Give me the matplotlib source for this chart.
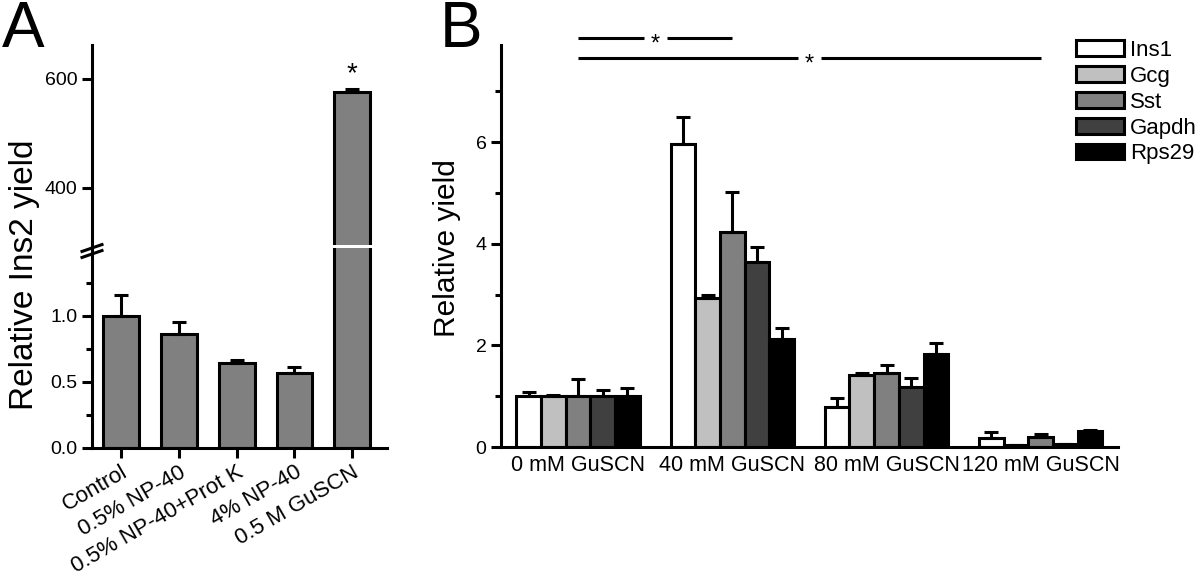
import matplotlib.pyplot as plt
import numpy as np

plt.rcParams['font.family'] = ['Liberation Sans', 'DejaVu Sans']

# panel A data
treatments = ["Control", "0.5% NP-40", "0.5% NP-40+Prot K", "4% NP-40", "0.5 M GuSCN"]
ins2_yield = [1.0, 0.864, 0.644, 0.568, 576]
ins2_err = [0.16, 0.09, 0.023, 0.046, 6]

# panel B data
conditions = ["0 mM GuSCN", "40 mM GuSCN", "80 mM GuSCN", "120 mM GuSCN"]
genes = ["Ins1", "Gcg", "Sst", "Gapdh", "Rps29"]
gene_colors = ["#ffffff", "#c0c0c0", "#808080", "#404040", "#000000"]
yield_b = {
    "Ins1":  [1.0, 5.96, 0.79, 0.17],
    "Gcg":   [1.0, 2.93, 1.42, 0.04],
    "Sst":   [1.0, 4.23, 1.45, 0.20],
    "Gapdh": [1.0, 3.64, 1.18, 0.05],
    "Rps29": [1.0, 2.12, 1.83, 0.31],
}
err_b = {
    "Ins1":  [0.08, 0.54, 0.17, 0.12],
    "Gcg":   [0.02, 0.07, 0.03, 0.0],
    "Sst":   [0.33, 0.79, 0.16, 0.05],
    "Gapdh": [0.12, 0.30, 0.18, 0.0],
    "Rps29": [0.16, 0.22, 0.21, 0.02],
}

LW = 2.2
fig = plt.figure(figsize=(12, 5.75), dpi=100)

# ---- panel A : broken axis ----
ax_lo = fig.add_axes([0.0767, 0.2209, 0.2458, 0.3478])
ax_hi = fig.add_axes([0.0767, 0.5739, 0.2458, 0.3478], sharex=ax_lo)

xa = np.arange(len(treatments))
for ax in (ax_lo, ax_hi):
    ax.bar(xa, ins2_yield, width=0.62, color="#808080", edgecolor="black", linewidth=LW,
           yerr=[np.zeros(len(xa)), ins2_err], capsize=5,
           error_kw=dict(elinewidth=LW, capthick=LW, ecolor="black"))
    for s in ("top", "right"):
        ax.spines[s].set_visible(False)
    ax.spines["left"].set_linewidth(LW)
    ax.tick_params(axis="y", width=LW, length=7, labelsize=14)
    ax.tick_params(axis="y", which="minor", width=LW, length=4)

ax_lo.set_xlim(-0.5, 4.6)
ax_lo.set_ylim(0, 1.515)
ax_lo.set_yticks([0, 0.5, 1.0])
ax_lo.set_yticklabels(["0.0", "0.5", "1.0"])
ax_lo.set_yticks([0.25, 0.75, 1.25], minor=True)
ax_lo.spines["bottom"].set_linewidth(LW)
ax_lo.set_xticks(xa)
ax_lo.set_xticklabels(treatments, rotation=30, ha="right", rotation_mode="anchor", fontsize=16)
ax_lo.tick_params(axis="x", width=LW, length=7, pad=3)

ax_hi.set_ylim(295, 662)
ax_hi.set_yticks([400, 600])
ax_hi.spines["bottom"].set_visible(False)
ax_hi.tick_params(axis="x", bottom=False, labelbottom=False)
ax_hi.text(4, 608, "*", ha="center", va="center", fontsize=20)

# break marks on the axis
for dy in (0.0, 12.0):
    y0 = 1 - (248 + dy / 2) / 575
    fig.add_artist(plt.Line2D([82 / 1200, 102 / 1200], [y0 - 0.006, y0 + 0.006],
                              color="black", lw=LW, transform=fig.transFigure))

fig.text(25 / 1200, 1 - 275 / 575, "Relative Ins2 yield", rotation=90,
         ha="center", va="center", fontsize=24)
fig.text(2 / 1200, 1 - 30 / 575, "A", fontsize=46, ha="left", va="center")

# ---- panel B ----
axb = fig.add_axes([0.4175, 0.2226, 0.514, 0.699])
xb = np.arange(len(conditions))
w = 0.16
for i, g in enumerate(genes):
    axb.bar(xb + (i - 2) * w, yield_b[g], width=w, color=gene_colors[i], edgecolor="black",
            linewidth=LW, label=g, yerr=[np.zeros(len(xb)), err_b[g]], capsize=5,
            error_kw=dict(elinewidth=LW, capthick=LW, ecolor="black"))
axb.set_xlim(-0.5, 3.5)
axb.set_ylim(0, 7.91)
for s in ("top", "right"):
    axb.spines[s].set_visible(False)
axb.spines["left"].set_linewidth(LW)
axb.spines["bottom"].set_linewidth(LW)
axb.set_yticks([0, 2, 4, 6])
axb.set_yticks([1, 3, 5, 7], minor=True)
axb.tick_params(axis="y", width=LW, length=7, labelsize=14)
axb.tick_params(axis="y", which="minor", width=LW, length=4)
axb.set_xticks(xb)
axb.set_xticklabels(conditions, fontsize=15.5)
axb.tick_params(axis="x", length=0, pad=6)

# significance lines
def sig_line(x0, x1, y, gap=0.075):
    xm = (x0 + x1) / 2
    axb.plot([x0, xm - gap], [y, y], color="black", lw=LW, clip_on=False, solid_capstyle="butt")
    axb.plot([xm + gap, x1], [y, y], color="black", lw=LW, clip_on=False, solid_capstyle="butt")
    axb.text(xm, y - 0.12, "*", ha="center", va="center", fontsize=17, clip_on=False)

sig_line(0, 1, 8.04)
sig_line(0, 3, 7.65)

axb.legend(loc="upper left", bbox_to_anchor=(0.932, 1.013), frameon=False, fontsize=16,
           handlelength=2.15, handleheight=0.7, labelspacing=0.22, handletextpad=0.3,
           borderaxespad=0, borderpad=0)

fig.text(447 / 1200, 1 - 248 / 575, "Relative yield", rotation=90,
         ha="center", va="center", fontsize=21.5)
fig.text(440 / 1200, 1 - 30 / 575, "B", fontsize=46, ha="left", va="center")

fig.savefig("out.png", dpi=100)
